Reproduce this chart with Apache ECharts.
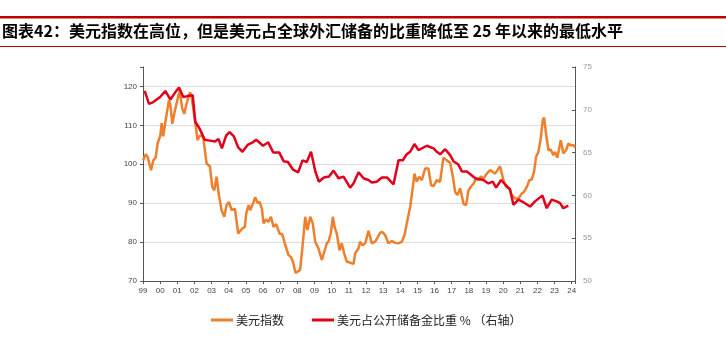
<!DOCTYPE html>
<html><head><meta charset="utf-8">
<script src="https://cdn.jsdelivr.net/npm/echarts@6/dist/echarts.min.js"></script>
<style>html,body{margin:0;padding:0;background:#fff}#c{width:726px;height:354px}</style>
</head><body><div id="c"></div>
<script>
const titleText = '图表42：美元指数在高位，但是美元占全球外汇储备的比重降低至 25 年以来的最低水平';
const seriesNames = ['美元指数', '美元占公开储备金比重 % （右轴）'];

// 美元指数 (left axis): time (fractional year) and value
const dxyTime = [1999.00,1999.16,1999.27,1999.47,1999.60,1999.74,1999.85,2000.01,2000.09,2000.18,2000.32,2000.51,2000.59,2000.71,2000.86,2001.02,2001.14,2001.29,2001.41,2001.54,2001.74,2001.83,2002.03,2002.18,2002.32,2002.51,2002.71,2002.90,2003.04,2003.16,2003.29,2003.43,2003.58,2003.74,2003.87,2004.01,2004.17,2004.36,2004.55,2004.65,2004.79,2004.94,
2005.02,2005.16,2005.25,2005.41,2005.54,2005.68,2005.80,2005.93,2006.03,2006.18,2006.32,2006.46,2006.61,2006.77,2006.96,2007.12,2007.27,2007.48,2007.62,2007.74,2007.89,2008.01,2008.16,2008.28,2008.46,2008.59,2008.75,2008.90,2009.04,2009.23,2009.43,2009.52,2009.72,2009.83,2009.95,2010.07,2010.17,2010.30,2010.46,2010.59,2010.73,2010.88,
2011.08,2011.18,2011.28,2011.37,2011.57,2011.66,2011.80,2011.96,2012.15,2012.34,2012.54,2012.63,2012.83,2012.96,2013.12,2013.31,2013.51,2013.70,2013.90,2014.09,2014.25,2014.38,2014.58,2014.71,2014.83,2014.96,2015.10,2015.26,2015.45,2015.64,2015.80,2015.94,2016.13,2016.32,2016.52,2016.71,2016.91,
2017.07,2017.20,2017.34,2017.49,2017.59,2017.69,2017.84,2017.98,2018.11,2018.27,2018.42,2018.56,2018.70,2018.85,2019.05,2019.24,2019.40,2019.53,2019.67,2019.82,2019.92,2020.02,2020.17,2020.37,2020.50,2020.70,2020.79,2020.89,2021.09,2021.22,2021.38,2021.53,2021.67,2021.80,2021.92,2022.06,2022.19,2022.31,2022.39,2022.50,2022.64,2022.77,2022.93,2023.03,2023.16,2023.36,2023.51,2023.67,2023.80,2023.94,2024.10,2024.19];
const dxyValue = [101.0,102.6,101.9,98.5,101.0,101.7,105.3,107.4,110.6,107.2,111.3,116.4,115.6,110.4,113.8,116.8,119.0,114.3,113.0,115.6,118.5,117.4,111.3,106.2,107.4,107.0,100.2,99.5,94.2,93.3,96.8,92.0,88.2,86.5,89.5,90.3,88.2,88.6,82.2,81.8,83.5,83.9,
87.4,89.5,88.2,89.9,91.5,90.1,90.3,88.6,84.8,85.8,85.2,86.5,83.9,84.6,82.2,82.0,79.7,76.7,76.2,75.0,72.1,72.4,72.8,77.9,86.5,83.1,86.5,84.8,80.1,78.4,75.4,75.0,79.7,80.3,82.2,86.5,83.9,82.2,77.9,79.7,77.1,75.0,
74.7,74.7,74.4,77.1,78.4,80.1,79.2,79.7,82.9,79.7,80.1,79.7,82.4,82.6,81.8,79.7,80.3,79.8,79.7,80.1,81.8,84.8,89.1,93.3,97.6,95.5,96.8,95.9,98.9,98.9,94.6,94.4,95.9,95.5,101.7,101.0,100.4,
96.8,92.9,92.1,93.8,93.3,89.9,89.5,93.3,94.2,95.0,96.3,95.9,96.9,96.3,97.6,98.5,98.0,97.6,98.5,99.5,99.2,95.9,94.2,93.8,92.1,91.2,91.6,91.2,92.5,92.9,94.2,95.9,96.1,98.0,101.9,103.2,106.6,111.3,112.0,107.9,103.6,103.8,102.3,103.2,101.7,106.2,102.8,103.6,105.3,104.9,104.9,104.4];

// 美元占公开储备金比重 % (right axis)
const shareTime = [1999.10,1999.35,1999.60,2000.00,2000.30,2000.40,2000.60,2000.90,2001.10,2001.35,2001.60,2001.90,2002.05,2002.30,2002.60,2002.90,2003.20,2003.40,2003.60,2003.85,2004.05,2004.30,2004.55,2004.80,2005.10,2005.40,2005.60,2006.00,2006.30,2006.60,2006.95,2007.20,2007.45,2007.75,2008.05,2008.30,2008.55,2008.80,2009.05,2009.25,2009.55,2009.85,2010.11,2010.40,2010.69,2011.08,2011.27,2011.57,2011.86,2012.15,2012.34,2012.63,2012.93,2013.22,2013.61,2013.90,2014.15,2014.38,2014.58,2014.83,2015.06,2015.55,2015.94,2016.13,2016.33,2016.62,2016.91,2017.10,2017.39,2017.59,2017.88,2018.07,2018.37,2018.85,2019.14,2019.39,2019.59,2019.88,2020.11,2020.40,2020.60,2020.89,2021.18,2021.57,2021.86,2022.29,2022.54,2022.83,2023.12,2023.32,2023.51,2023.80];
const shareValue = [72.2,70.7,70.9,71.5,72.2,72.3,71.2,72.1,72.6,71.5,71.6,71.7,68.6,67.8,66.5,66.4,66.3,66.6,65.5,67.0,67.4,66.9,65.6,65.1,65.9,66.2,66.5,65.8,66.2,65.0,65.0,64.0,63.9,63.0,62.7,64.1,63.9,65.1,62.8,61.6,62.1,62.2,62.9,62.0,62.2,60.9,61.4,62.7,62.0,61.8,61.5,61.6,62.1,62.1,61.3,64.1,64.1,64.8,65.1,66.0,65.3,65.8,65.5,65.1,64.8,65.4,64.7,64.0,63.6,62.8,62.8,62.5,62.0,61.8,61.4,61.6,60.9,61.8,61.3,60.7,58.9,59.5,59.2,58.7,59.3,60.0,58.5,59.5,59.3,59.1,58.5,58.8];

const leftMin = 70, leftMax = 125, leftInterval = 10;
const rightMin = 50, rightMax = 75, rightInterval = 5;
const xMin = 1999, xMax = 2024.19;

const chart = echarts.init(document.getElementById('c'), null, {renderer: 'canvas'});
const pair = (t, v) => t.map((x, i) => [x, v[i]]);
const labelFont = 'Liberation Sans, Arial, sans-serif';

chart.setOption({
  animation: false,
  backgroundColor: '#fff',
  graphic: [
    {type: 'rect', shape: {x: 0, y: 16, width: 726, height: 2.5}, style: {fill: '#C00000'}},
    {type: 'rect', shape: {x: 0, y: 46, width: 726, height: 1}, style: {fill: '#C00000'}},
    {type: 'text', left: 2, top: 23, style: {text: titleText, fill: '#000', font: 'bold 16px "Noto Sans CJK SC"'}}
  ],
  grid: {left: 143, right: 151, top: 67, bottom: 73},
  legend: {
    bottom: 23, left: 206,
    itemWidth: 22, itemHeight: 3, itemGap: 28,
    icon: 'rect',
    textStyle: {fontFamily: 'Noto Sans CJK SC', fontSize: 12, color: '#222', padding: [0, 0, 0, -2]},
    data: seriesNames
  },
  xAxis: {
    type: 'value', min: xMin, max: xMax, interval: 1,
    axisLine: {lineStyle: {color: '#555', width: 1}},
    axisTick: {show: true, length: 3, lineStyle: {color: '#555'}},
    splitLine: {show: false},
    axisLabel: {
      fontSize: 8, color: '#444', fontFamily: labelFont, margin: 6,
      formatter: v => (Math.abs(v - Math.round(v)) < 1e-6 && v <= 2024) ? String(Math.round(v) % 100).padStart(2, '0') : ''
    }
  },
  yAxis: [
    {
      type: 'value', min: leftMin, max: leftMax, interval: leftInterval, position: 'left',
      axisLine: {show: true, lineStyle: {color: '#555'}},
      axisTick: {show: true, length: 3, lineStyle: {color: '#555'}},
      splitLine: {show: true, lineStyle: {color: ['#dcdcdc','#dcdcdc','#dcdcdc','#dcdcdc','#dcdcdc','#dcdcdc','rgba(0,0,0,0)'], width: 1}},
      axisLabel: {fontSize: 8, color: '#444', fontFamily: labelFont, margin: 6,
        formatter: v => (v % 10 === 0) ? String(v) : ''}
    },
    {
      type: 'value', min: rightMin, max: rightMax, interval: rightInterval, position: 'right',
      axisLine: {show: true, lineStyle: {color: '#555'}},
      axisTick: {show: true, inside: true, length: 3, lineStyle: {color: '#555'}},
      splitLine: {show: false},
      axisLabel: {fontSize: 8, color: '#999', fontFamily: labelFont, margin: 8}
    }
  ],
  series: [
    {
      name: seriesNames[0], type: 'line', yAxisIndex: 0, showSymbol: false, symbol: 'none',
      data: pair(dxyTime, dxyValue),
      lineStyle: {color: '#EE7F2D', width: 2.5}, itemStyle: {color: '#EE7F2D'}, z: 2
    },
    {
      name: seriesNames[1], type: 'line', yAxisIndex: 1, showSymbol: false, symbol: 'none',
      data: pair(shareTime, shareValue),
      lineStyle: {color: '#E3001B', width: 2.5}, itemStyle: {color: '#E3001B'}, z: 3
    }
  ]
});
</script></body></html>
